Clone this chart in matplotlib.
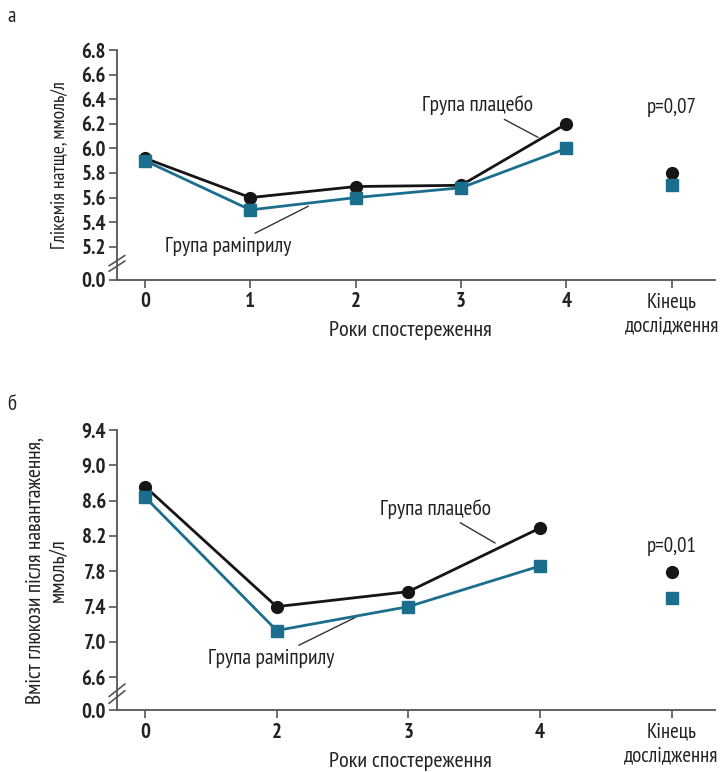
import numpy as np
import matplotlib
matplotlib.use("Agg")
import matplotlib.pyplot as plt
from matplotlib import font_manager

# panel a: fasting glucose
a_labels = ["0", "1", "2", "3", "4", "Кінець\nдослідження"]
a_placebo = [5.92, 5.60, 5.69, 5.70, 6.20, 5.80]
a_ramipril = [5.90, 5.50, 5.60, 5.68, 6.00, 5.70]
a_ticks = [0.0, 5.2, 5.4, 5.6, 5.8, 6.0, 6.2, 6.4, 6.6, 6.8]

# panel b: glucose after load
b_labels = ["0", "2", "3", "4", "Кінець\nдослідження"]
b_placebo = [8.76, 7.40, 7.57, 8.29, 7.79]
b_ramipril = [8.64, 7.13, 7.40, 7.86, 7.50]
b_ticks = [0.0, 6.6, 7.0, 7.4, 7.8, 8.2, 8.6, 9.0, 9.4]

# a narrow font close to the condensed face of the original
names = {f.name for f in font_manager.fontManager.ttflist}
fam = "DejaVu Sans"
for cand in ["PT Sans Narrow", "Fira Sans Condensed", "Roboto Condensed",
             "Open Sans Condensed", "IBM Plex Sans Condensed", "Liberation Sans Narrow"]:
    if cand in names:
        fam = cand
        break
plt.rcParams["font.family"] = [fam, "DejaVu Sans"]

BLACK = "#151515"
TEAL = "#1b6f8c"
GREY = "#555555"
TXT = "#222222"


def broken_scale(brk, gap):
    # values below the break are squeezed into a short gap
    def fwd(v):
        v = np.asarray(v, dtype=float)
        return np.where(v >= brk, v, brk - gap * (brk - v) / brk)

    def inv(u):
        u = np.asarray(u, dtype=float)
        return np.where(u >= brk, u, brk - (brk - u) * brk / gap)
    return fwd, inv


def panel(ax, labels, plac, rami, ticks, brk, gap, xlim, ylabel, ylab_fs, xlab_y):
    n = len(labels)
    xs = np.arange(n)
    ax.set_yscale("function", functions=broken_scale(brk, gap))
    ax.plot(xs[:-1], plac[:-1], color=BLACK, lw=2, marker="o", ms=8.5, zorder=3)
    ax.plot(xs[:-1], rami[:-1], color=TEAL, lw=2, marker="s", ms=8.5, zorder=4)
    ax.plot(xs[-1], plac[-1], color=BLACK, marker="o", ms=8.5, ls="none")
    ax.plot(xs[-1], rami[-1], color=TEAL, marker="s", ms=8.5, ls="none")

    ax.set_ylim(0, ticks[-1])
    ax.set_xlim(*xlim)
    ax.set_yticks(ticks)
    ax.set_yticklabels([f"{t:.1f}" for t in ticks])
    ax.set_xticks(xs)
    ax.set_xticklabels(labels, linespacing=1.35)
    for s in ["top", "right"]:
        ax.spines[s].set_visible(False)
    for s in ["left", "bottom"]:
        ax.spines[s].set_color(GREY)
        ax.spines[s].set_linewidth(1.3)
    ax.tick_params(colors=GREY, length=6, width=1.2, labelsize=15,
                   labelcolor=TXT, pad=3)
    ax.tick_params(axis="y", pad=2)
    for lab in ax.get_yticklabels():
        lab.set_fontweight("bold")
    for lab in ax.get_xticklabels()[:-1]:
        lab.set_fontweight("bold")
    ax.get_xticklabels()[-1].set_fontsize(15)

    ax.set_xlabel("Роки спостереження", fontsize=16, color=TXT)
    ax.xaxis.set_label_coords(0.49, xlab_y)
    ax.set_ylabel(ylabel, fontsize=ylab_fs, color=TXT, linespacing=1.3)
    ax.yaxis.set_label_coords(-0.082, 0.5)

    # break marks on the y axis
    ymid = ax.transAxes.inverted().transform(ax.transData.transform((0, brk * 0.5)))[1]
    for dy in (-0.012, 0.012):
        yb = ymid + dy
        ax.plot([-0.013, 0.013], [yb - 0.022, yb + 0.022], transform=ax.transAxes,
                color=GREY, lw=1.2, clip_on=False, zorder=5)


fig = plt.figure(figsize=(7.22, 7.73), dpi=100)
ax1 = fig.add_axes([117 / 722, 1 - 280 / 773, 598 / 722, 230 / 773])
ax2 = fig.add_axes([117 / 722, 1 - 710 / 773, 598 / 722, 280 / 773])

panel(ax1, a_labels, a_placebo, a_ramipril, a_ticks, 5.2, 0.27, (-0.266, 5.41),
      "Глікемія натще, ммоль/л", 14, -0.178)
panel(ax2, b_labels, b_placebo, b_ramipril, b_ticks, 6.6, 0.37, (-0.213, 4.33),
      "Вміст глюкози після навантаження,\nммоль/л", 15.5, -0.150)

kw = dict(fontsize=15.5, color=TXT, ha="center", va="center",
          arrowprops=dict(arrowstyle="-", color="#333333", lw=1, shrinkA=2, shrinkB=0))
ax1.annotate("Група плацебо", xy=(3.73, 6.09), xytext=(3.16, 6.35), **kw)
ax1.annotate("Група раміприлу", xy=(1.55, 5.53), xytext=(0.79, 5.20), **kw)
ax1.text(5, 6.33, "p=0,07", fontsize=15, color=TXT, ha="center", va="center")

ax2.annotate("Група плацебо", xy=(2.66, 8.12), xytext=(2.21, 8.51), **kw)
ax2.annotate("Група раміприлу", xy=(1.60, 7.28), xytext=(0.96, 6.81), **kw)
ax2.text(4, 8.08, "p=0,01", fontsize=15, color=TXT, ha="center", va="center")

fig.text(7 / 722, 1 - 17 / 773, "а", fontsize=15, color=TXT, ha="left", va="center")
fig.text(7 / 722, 1 - 405 / 773, "б", fontsize=15, color=TXT, ha="left", va="center")

fig.savefig("out.png", dpi=100)
